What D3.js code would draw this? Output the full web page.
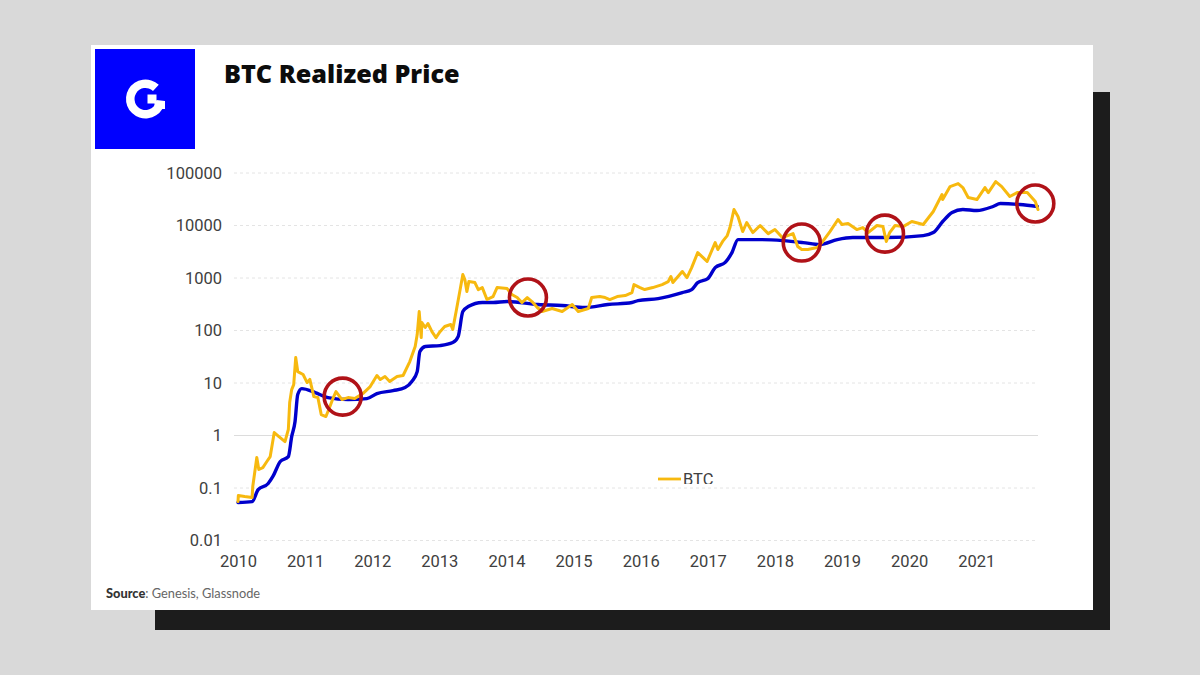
<!DOCTYPE html>
<html><head><meta charset="utf-8">
<script src="https://cdn.jsdelivr.net/npm/d3@7"></script>
<style>html,body{margin:0;padding:0;background:#d9d9d9;overflow:hidden}svg{display:block}</style>
</head><body><svg id="c" width="1200" height="675"></svg>
<script>
const yTicks=[0.01,0.1,1,10,100,1000,10000,100000];
const yearTicks=[2010,2011,2012,2013,2014,2015,2016,2017,2018,2019,2020,2021];
const btcYears=[2010.00,2010.005,2010.10,2010.21,2010.22,2010.28,2010.31,2010.37,2010.43,2010.48,
2010.54,2010.61,2010.70,2010.75,2010.77,2010.80,2010.83,2010.86,2010.89,2010.97,
2011.03,2011.07,2011.13,2011.19,2011.24,2011.31,2011.37,2011.42,2011.46,2011.55,
2011.64,2011.74,2011.86,2011.97,2012.07,2012.12,2012.19,2012.26,2012.37,2012.46,
2012.56,2012.64,2012.67,2012.70,2012.73,2012.74,2012.79,2012.83,2012.89,2012.95,
2013.01,2013.08,2013.17,2013.20,2013.25,2013.31,2013.35,2013.38,2013.41,2013.44,
2013.53,2013.58,2013.64,2013.71,2013.80,2013.86,2014.01,2014.08,2014.16,2014.23,
2014.31,2014.38,2014.46,2014.53,2014.68,2014.83,2014.98,2015.07,2015.22,2015.27,
2015.39,2015.47,2015.54,2015.65,2015.77,2015.87,2015.90,2015.99,2016.06,2016.18,
2016.32,2016.41,2016.45,2016.48,2016.62,2016.69,2016.76,2016.85,2016.93,2016.99,
2017.11,2017.15,2017.23,2017.29,2017.33,2017.39,2017.45,2017.52,2017.58,2017.67,
2017.78,2017.90,2018.00,2018.11,2018.27,2018.34,2018.40,2018.49,2018.63,2018.70,
2018.82,2018.94,2019.00,2019.09,2019.22,2019.31,2019.39,2019.52,2019.61,2019.66,
2019.71,2019.79,2019.91,2020.04,2020.21,2020.36,2020.49,2020.50,2020.61,2020.73,
2020.80,2020.88,2021.01,2021.13,2021.18,2021.29,2021.38,2021.50,2021.61,2021.76,
2021.88,2021.92];
const btcPrice=[0.0551,0.0717,0.0686,0.0657,0.107,0.38,0.225,0.245,0.32,0.397,
1.14,0.953,0.766,1.30,4.24,7.49,9.33,30.5,16.5,14.5,
10.2,11.7,5.51,5.28,2.51,2.3,3.56,5.28,6.86,4.84,
5.28,5.05,6.29,8.54,13.9,11.7,13.3,10.7,13.3,13.9,
25.6,49.5,83.6,230,73.3,142,114,136,95.3,73,
95,119,130,105,230,602,1165,933,551,854,
818,602,657,389,443,657,629,484,424,341,
424,356,274,230,262,230,312,230,262,424,
443,424,389,443,463,528,749,657,602,657,
749,854,1070,818,1330,1020,1580,3050,2450,2060,
4730,3480,5160,6430,9130,20200,14800,7660,11400,7330,
10000,7000,8360,5890,7000,3980,3480,3480,3800,4730,
7660,13000,10450,10900,8360,9130,7330,10000,9530,4950,
7330,10000,9530,11900,10450,18500,38900,31200,55100,62900,
52800,34100,31200,52800,42400,68600,55100,35600,42400,42400,
28600,20200];
const realizedYears=[2010.00,2010.21,2010.30,2010.45,2010.52,2010.63,2010.75,2010.80,2010.85,2010.89,2010.95,
2011.15,2011.34,2011.64,2011.92,2012.07,2012.31,2012.49,2012.59,2012.67,2012.71,2012.79,
2013.01,2013.20,2013.28,2013.35,2013.43,2013.64,2013.80,2014.01,2014.47,2014.83,
2015.17,2015.51,2015.87,2015.96,2016.26,2016.62,2016.76,2016.85,2017.00,2017.11,2017.26,2017.36,2017.45,2017.55,2017.78,
2018.12,2018.42,2018.67,2018.93,2019.16,2019.67,2020.21,2020.36,2020.50,2020.64,2020.80,
2021.01,2021.25,2021.36,2021.65,2021.91];
const realizedPrice=[0.0528,0.0551,0.0933,0.122,0.166,0.32,0.397,0.953,1.85,6.02,7.83,
6.57,5.28,4.84,5.05,6.29,7.16,8.18,10.7,16.5,39.7,49.5,
51.6,58.9,76.6,230,286,341,341,356,312,299,
274,312,341,372,406,528,602,818,974,1580,1980,3050,5390,5390,5390,
5160,4730,4330,5390,5890,5890,6430,7330,11900,17700,20200,
19300,23000,26200,25100,23000];
const circleYears=[2011.56,2014.32,2018.40,2019.64,2021.88];
const circleValues=[5.51,424,4730,7000,26200];
const titleText="BTC Realized Price";
const legendText="BTC";
const sourceLabel="Source";
const sourceText=": Genesis, Glassnode";

const svg=d3.select("#c");
const x=d3.scaleLinear().domain([2010,2021.95]).range([238,1040]);
const y=d3.scaleLog().domain([0.01,100000]).range([540.5,173]);
const FONT="Roboto, 'Open Sans', sans-serif";

svg.append("rect").attr("x",155).attr("y",92).attr("width",955).attr("height",538).attr("fill","#1c1c1c");
svg.append("rect").attr("x",91).attr("y",45).attr("width",1002).attr("height",565).attr("fill","#fff");
svg.append("rect").attr("x",95).attr("y",49).attr("width",100).attr("height",100).attr("fill","#0000ff");
// logo mark
const lg=svg.append("g").attr("transform","translate(145.5,99)");
lg.append("path").attr("d",d3.arc()({innerRadius:11,outerRadius:19.5,startAngle:Math.PI/2+0.1,endAngle:2*Math.PI+0.75})).attr("fill","#fff");
lg.append("rect").attr("x",2).attr("y",-4.5).attr("width",9).attr("height",9).attr("fill","#fff");
lg.append("rect").attr("x",9).attr("y",2).attr("width",10.5).attr("height",8).attr("fill","#fff");

svg.append("text").attr("x",224).attr("y",83).attr("font-family","'Open Sans', sans-serif").attr("font-weight",800).attr("font-size",25.2).attr("fill","#0c0c0c").text(titleText);

// y axis + grid
const ya=svg.append("g").attr("transform","translate(232,0)")
  .call(d3.axisLeft(y).tickValues(yTicks).tickFormat(d=>String(d)).tickSize(0).tickPadding(10));
ya.select(".domain").remove();
ya.selectAll("text").attr("font-family",FONT).attr("font-size",16.5).attr("fill","#404040");
const grid=svg.append("g");
grid.selectAll("line").data(yTicks).join("line")
  .attr("x1",234).attr("x2",1038).attr("y1",d=>y(d)).attr("y2",d=>y(d))
  .attr("stroke",d=>d===1?"#dcdcdc":"#e4e4e4").attr("stroke-width",1)
  .attr("stroke-dasharray",d=>d===1?null:"3 3");

// x axis
const xa=svg.append("g").attr("transform","translate(0,553)")
  .call(d3.axisBottom(x).tickValues(yearTicks).tickFormat(d3.format("d")).tickSize(0).tickPadding(2));
xa.select(".domain").remove();
xa.selectAll("text").attr("font-family",FONT).attr("font-size",16.5).attr("fill","#404040");

const line=d3.line().x(d=>x(d[0])).y(d=>y(d[1]));
svg.append("path").attr("d",line.curve(d3.curveMonotoneX)(d3.zip(realizedYears,realizedPrice))).attr("fill","none")
  .attr("stroke","#0000cc").attr("stroke-width",3.4).attr("stroke-linejoin","round").attr("stroke-linecap","round");
svg.append("path").attr("d",line.curve(d3.curveLinear)(d3.zip(btcYears,btcPrice))).attr("fill","none")
  .attr("stroke","#f7b90f").attr("stroke-width",3).attr("stroke-linejoin","round").attr("stroke-linecap","round");

svg.append("g").selectAll("circle").data(d3.zip(circleYears,circleValues)).join("circle")
  .attr("cx",d=>x(d[0])).attr("cy",d=>y(d[1])).attr("r",18.5)
  .attr("fill","none").attr("stroke","#b01218").attr("stroke-width",3.6);

// legend, cut off at the bottom as in the source image
svg.append("defs").append("clipPath").attr("id","lc").append("rect").attr("x",650).attr("y",465).attr("width",80).attr("height",19);
const lgd=svg.append("g").attr("clip-path","url(#lc)");
lgd.append("line").attr("x1",658).attr("x2",681).attr("y1",479).attr("y2",479).attr("stroke","#f7b90f").attr("stroke-width",2.8);
lgd.append("text").attr("x",683).attr("y",485).attr("font-family",FONT).attr("font-size",16.5).attr("fill","#404040").text(legendText);

const st=svg.append("text").attr("x",106).attr("y",598).attr("font-family","Lato, sans-serif").attr("font-size",12.8).attr("fill","#666");
st.append("tspan").attr("font-weight",900).attr("fill","#333").text(sourceLabel);
st.append("tspan").text(sourceText);
</script></body></html>
